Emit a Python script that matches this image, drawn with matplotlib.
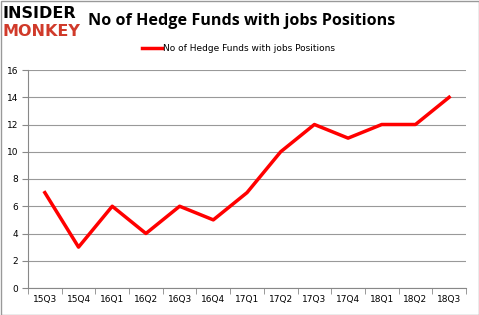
import matplotlib.pyplot as plt
from matplotlib.patches import Rectangle

quarters = ["15Q3", "15Q4", "16Q1", "16Q2", "16Q3", "16Q4", "17Q1",
            "17Q2", "17Q3", "17Q4", "18Q1", "18Q2", "18Q3"]
hedge_funds = [7, 3, 6, 4, 6, 5, 7, 10, 12, 11, 12, 12, 14]
series_name = "No of Hedge Funds with jobs Positions"

W, H = 479, 315
fig = plt.figure(figsize=(W / 100, H / 100), dpi=100)
ax = fig.add_axes([28 / W, 1 - 288 / H, 438 / W, 218 / H])

x = range(len(quarters))
ax.plot(x, hedge_funds, color="#ff0000", lw=2.5, label=series_name)

ax.set_xlim(-0.5, len(quarters) - 0.5)
ax.set_ylim(0, 16)
ax.set_yticks(range(0, 17, 2))
ax.set_xticks(list(x))
ax.set_xticklabels(quarters)
ax.set_xticks([i - 0.5 for i in range(len(quarters) + 1)], minor=True)
ax.tick_params(axis="x", which="major", length=0, pad=5, labelsize=6.5)
ax.tick_params(axis="x", which="minor", length=4, color="#888888")
ax.tick_params(axis="y", length=4, color="#888888", labelsize=6.5, pad=3)
ax.grid(axis="y", color="#999999", lw=0.8)
ax.set_axisbelow(True)
for s in ["top", "right"]:
    ax.spines[s].set_visible(False)
for s in ["left", "bottom"]:
    ax.spines[s].set_color("#888888")

ax.legend(loc="upper center", bbox_to_anchor=(0.5 - 0.02, 1.155), frameon=False,
          fontsize=6.5, handlelength=2.2, handletextpad=0.1)

fig.text(88 / W, 1 - 21 / H, series_name, fontsize=11.6, fontweight="bold",
         va="center", ha="left", family="Open Sans")
fig.text(3 / W, 1 - 14 / H, "INSIDER", fontsize=11.5, fontweight="heavy",
         va="center", ha="left", color="black", family="DejaVu Sans")
fig.text(3 / W, 1 - 31 / H, "MONKEY", fontsize=11.5, fontweight="heavy",
         va="center", ha="left", color="#d03a2a", family="DejaVu Sans")

fig.patches.append(Rectangle((0.5 / W, 0.5 / H), 1 - 1 / W, 1 - 1 / H,
                             transform=fig.transFigure, fill=False,
                             edgecolor="#999999", lw=1))

fig.savefig("out.png", dpi=100)
